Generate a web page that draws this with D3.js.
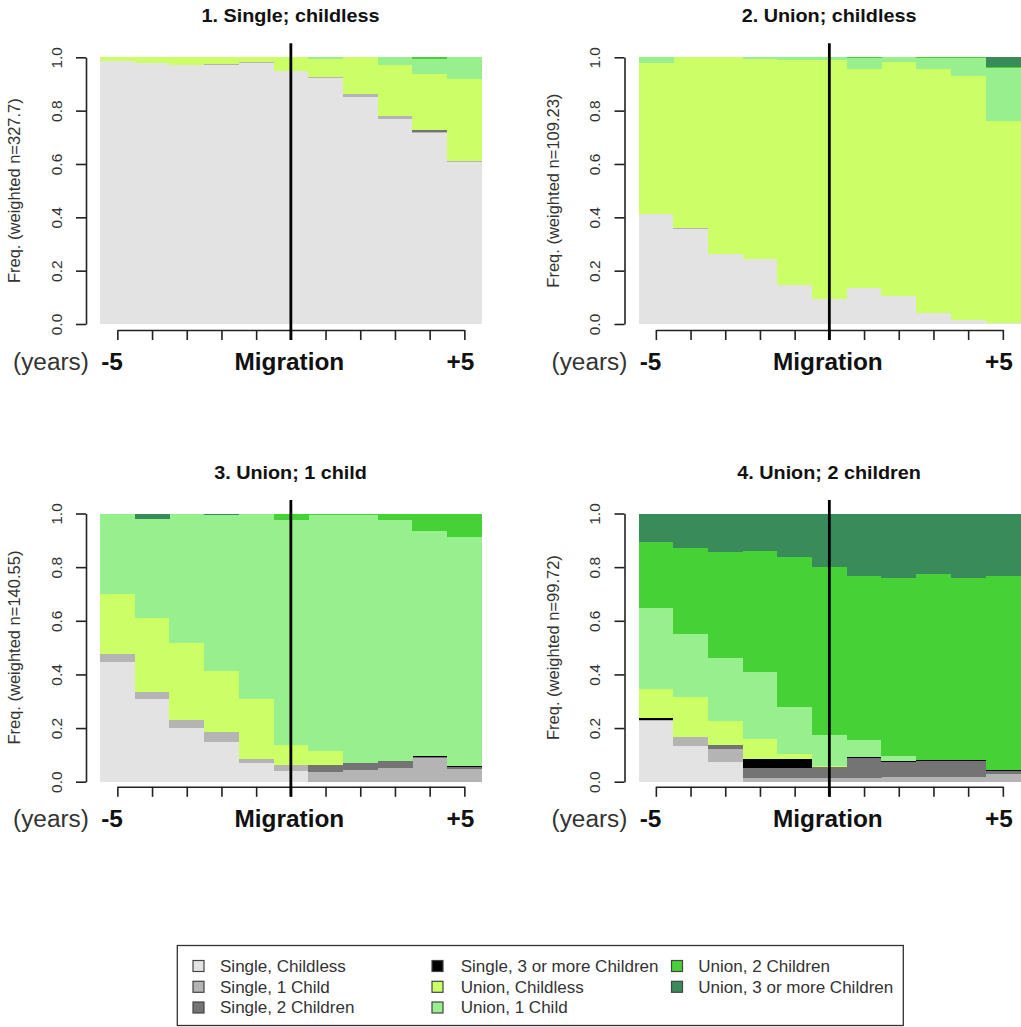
<!DOCTYPE html>
<html><head><meta charset="utf-8">
<script src="https://cdn.jsdelivr.net/npm/d3@7"></script>
<style>body{margin:0;background:#fff} svg{display:block}</style>
</head><body><svg id="chart" width="1021" height="1027"></svg>
<script>
// ---------------- data ----------------
const timeLabels = ["-5","-4","-3","-2","-1","0","+1","+2","+3","+4","+5"];
const stateLabels = ["Single, Childless","Single, 1 Child","Single, 2 Children","Single, 3 or more Children",
                     "Union, Childless","Union, 1 Child","Union, 2 Children","Union, 3 or more Children"];
const stateColors = ["#e3e3e3","#b4b4b4","#747474","#000000","#ccff66","#98ef8e","#46d136","#3a8b5a"];
const panelTitles = ["1. Single; childless","2. Union; childless","3. Union; 1 child","4. Union; 2 children"];
const weightedN = ["327.7","109.23","140.55","99.72"];
const yTicks = [0, 0.2, 0.4, 0.6, 0.8, 1.0];

// rows = time points (-5 .. +5); columns = states in stateLabels order
const freqSingleChildless = [
  [0.988,0,    0,    0,0,    0,    0,    0],
  [0.978,0,    0,    0,0.022,0,    0,    0],
  [0.970,0,    0,    0,0.030,0,    0,    0],
  [0.972,0.003,0,    0,0.025,0,    0,    0],
  [0.979,0.004,0,    0,0.017,0,    0,    0],
  [0.949,0,    0,    0,0.051,0,    0,    0],
  [0.921,0.006,0,    0,0.066,0.007,0,    0],
  [0.852,0.009,0,    0,0.139,0,    0,    0],
  [0.769,0.011,0,    0,0.191,0.029,0,    0],
  [0.715,0.005,0.007,0,0.2105,0.0575,0.005,0],
  [0.607,0.004,0,    0,0.308,0.081,0,    0]
];
freqSingleChildless[0][4] = 0.012;

const freqUnionChildless = [
  [0.4125,0,    0,0,0.565, 0.0225,0,    0],
  [0.355, 0.004,0,0,0.641, 0,     0,    0],
  [0.261, 0,    0,0,0.739, 0,     0,    0],
  [0.2425,0,    0,0,0.7525,0.005, 0,    0],
  [0.145, 0,    0,0,0.845, 0.010, 0,    0],
  [0.0925,0,    0,0,0.8975,0.010, 0,    0],
  [0.134, 0,    0,0,0.821, 0.041, 0.004,0],
  [0.105, 0,    0,0,0.8775,0.0175,0,    0],
  [0.040, 0,    0,0,0.915, 0.041, 0.004,0],
  [0.015, 0,    0,0,0.916, 0.065, 0.004,0],
  [0.005, 0,    0,0,0.7575,0.196, 0.004,0.0375]
];

const freqUnionOneChild = [
  [0.445, 0.033, 0,     0,    0.220, 0.302,0,    0],
  [0.307, 0.026, 0,     0,    0.278, 0.370,0,    0.019],
  [0.201, 0.029, 0,     0,    0.288, 0.482,0,    0],
  [0.149, 0.035, 0,     0,    0.230, 0.581,0,    0.005],
  [0.0685,0.016, 0,     0,    0.2225,0.690,0,    0.003],
  [0.041, 0.021, 0,     0,    0.075, 0.838,0.025,0],
  [0,     0.037, 0.025, 0,    0.052, 0.881,0.005,0],
  [0,     0.0435,0.0245,0,    0,     0.927,0.005,0],
  [0,     0.050, 0.028, 0,    0,     0.897,0.025,0],
  [0,     0.087, 0.004, 0.004,0,     0.840,0.065,0],
  [0,     0.046, 0.010, 0.004,0,     0.853,0.087,0]
];

const freqUnionTwoChildren = [
  [0.227, 0.004, 0,     0.006, 0.107,0.302,0.248,0.106],
  [0.133, 0.032, 0,     0,     0.151,0.233,0.323,0.128],
  [0.0745,0.0475,0.015, 0,     0.090,0.233,0.395,0.145],
  [0,     0.012, 0.038, 0.033, 0.075,0.252,0.450,0.140],
  [0,     0.012, 0.038, 0.033, 0.020,0.177,0.556,0.164],
  [0,     0.012, 0.043, 0,     0.003,0.116,0.627,0.199],
  [0,     0.015, 0.072, 0.004, 0,    0.064,0.613,0.232],
  [0,     0.018, 0.0565,0.0035,0,    0.018,0.665,0.239],
  [0,     0.018, 0.059, 0.003, 0,    0,    0.693,0.227],
  [0,     0.018, 0.059, 0.003, 0,    0,    0.681,0.239],
  [0,     0.029, 0.011, 0.003, 0,    0,    0.725,0.232]
];

const panelData = [freqSingleChildless, freqUnionChildless, freqUnionOneChild, freqUnionTwoChildren];

// ---------------- layout ----------------
const FONT = "'Liberation Sans', Arial, Helvetica, sans-serif";
const colDx = [0, 538.5];
const rows = [
  {dy: 0,     top: 57.3,  bottom: 324.0},
  {dy: 456.8, top: 513.5, bottom: 781.7}
];
const barLeft = 100, barRight = 481.7;
const svg = d3.select("#chart");

panelData.forEach((freq, p) => {
  const dx = colDx[p % 2];
  const r = rows[Math.floor(p / 2)];
  const g = svg.append("g");

  const x = d3.scaleBand().domain(timeLabels).range([barLeft + dx, barRight + dx]).padding(0);
  const y = d3.scaleLinear().domain([0, 1]).range([r.bottom, r.top]);
  const bw = x.bandwidth();
  const xp = d3.scalePoint().domain(timeLabels)
    .range([x(timeLabels[0]) + bw / 2, x(timeLabels[timeLabels.length - 1]) + bw / 2]);

  const series = d3.stack().keys(d3.range(stateLabels.length))(freq);

  g.append("g").selectAll("g").data(series).join("g")
    .attr("fill", s => stateColors[s.key])
    .selectAll("rect")
    .data(s => s.map((d, i) => ({y0: d[0], y1: d[1], t: timeLabels[i]})).filter(d => d.y1 - d.y0 > 0))
    .join("rect")
    .attr("shape-rendering", "crispEdges")
    .attr("x", d => x(d.t))
    .attr("width", bw + 0.3)
    .attr("y", d => y(d.y1))
    .attr("height", d => y(d.y0) - y(d.y1));

  // y axis
  const ya = g.append("g").attr("transform", `translate(${86 + dx},0)`)
    .call(d3.axisLeft(y).tickValues(yTicks).tickFormat(d3.format(".1f")).tickSize(10).tickSizeOuter(0));
  ya.select(".domain").attr("stroke", "#222").attr("stroke-width", 1.6);
  ya.selectAll(".tick line").attr("stroke", "#222").attr("stroke-width", 1.6);
  ya.selectAll(".tick text")
    .attr("transform", "rotate(-90)")
    .attr("x", 0).attr("y", -24.3).attr("dy", null)
    .attr("text-anchor", "middle")
    .attr("fill", "#333")
    .style("font-family", FONT).style("font-size", "15.5px");

  // x axis (ticks at bar centres)
  const axisY = 330 + r.dy;
  const xa = g.append("g").attr("transform", `translate(0,${axisY})`)
    .call(d3.axisBottom(xp).tickSize(10).tickSizeOuter(0).tickFormat(""));
  xa.select(".domain").attr("stroke", "#222").attr("stroke-width", 1.6);
  xa.selectAll(".tick line").attr("stroke", "#222").attr("stroke-width", 1.6);
  xa.selectAll(".tick text").remove();

  // migration line
  g.append("line")
    .attr("x1", xp("0")).attr("x2", xp("0"))
    .attr("y1", 43.3 + r.dy).attr("y2", 340 + r.dy)
    .attr("stroke", "#000").attr("stroke-width", 2.8);

  // title
  g.append("text")
    .attr("transform", `translate(${xp("0") - 0.3},${21.7 + r.dy}) scale(1.1,1)`)
    .attr("text-anchor", "middle")
    .style("font-family", FONT).style("font-size", "18px").style("font-weight", "bold")
    .attr("fill", "#111")
    .text(panelTitles[p]);

  // y label
  g.append("text")
    .attr("transform", `translate(${20 + dx},${(r.top + r.bottom) / 2}) rotate(-90)`)
    .attr("text-anchor", "middle")
    .style("font-family", FONT).style("font-size", "16.5px")
    .attr("fill", "#333")
    .text(`Freq. (weighted n=${weightedN[p]})`);

  // x labels
  const lblY = 370 + r.dy;
  const xlabel = (txt, xx, anchor, bold) => g.append("text")
    .attr("transform", `translate(${xx},${lblY}) scale(1.06,1)`)
    .attr("text-anchor", anchor)
    .style("font-family", FONT).style("font-size", "23px")
    .style("font-weight", bold ? "bold" : "normal")
    .attr("fill", bold ? "#111" : "#333")
    .text(txt);
  xlabel("(years)", xp("-5") - 28.5, "end", false);
  xlabel("-5", xp("-5") - 5.3, "middle", true);
  xlabel("Migration", xp("0") - 1.5, "middle", true);
  xlabel("+5", xp("+5") - 4, "middle", true);
});

// ---------------- legend ----------------
const lg = svg.append("g");
lg.append("rect").attr("x", 177.3).attr("y", 945.5).attr("width", 726).attr("height", 80)
  .attr("fill", "none").attr("stroke", "#333").attr("stroke-width", 1.3);
const legSquareX = [198.5, 437.5, 677];
const legTextX = [220, 460.7, 698.3];
const legRowY = [966, 986.8, 1007.5];
stateLabels.forEach((lab, i) => {
  const c = Math.floor(i / 3), rr = i % 3;
  lg.append("rect")
    .attr("x", legSquareX[c] - 5.5).attr("y", legRowY[rr] - 5.5)
    .attr("width", 11).attr("height", 11)
    .attr("fill", stateColors[i]).attr("stroke", "#444").attr("stroke-width", 1.2);
  lg.append("text")
    .attr("transform", `translate(${legTextX[c]},${legRowY[rr] + 5.7}) scale(1.065,1)`)
    .style("font-family", FONT).style("font-size", "16px")
    .attr("fill", "#333")
    .text(lab);
});
</script>
</body></html>
